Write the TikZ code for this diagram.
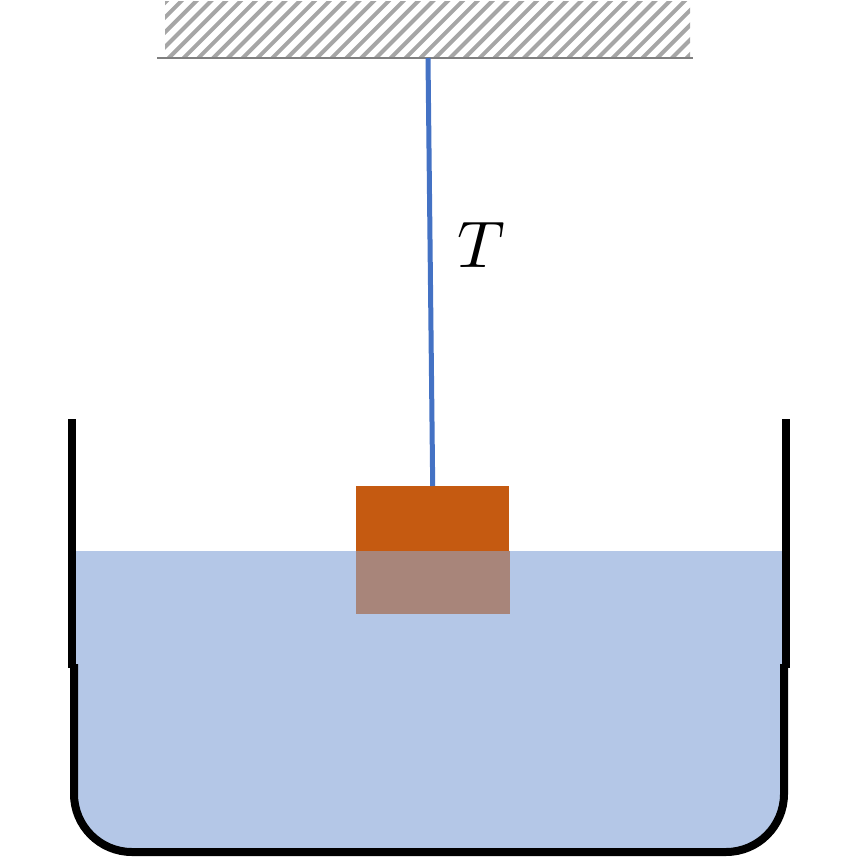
\documentclass[tikz,border=0pt]{standalone}
\usetikzlibrary{calc}
\definecolor{water}{HTML}{B4C7E7}
\definecolor{blockc}{HTML}{C55A11}
\definecolor{blockw}{HTML}{A8857A}
\definecolor{rope}{HTML}{4472C4}
\definecolor{hatchc}{HTML}{A6A6A6}
\tikzset{
  wall/.style={line width=8pt, black},
  ropeline/.style={line width=5pt, rope},
  hatchline/.style={line width=4pt, hatchc},
  ceilline/.style={line width=2pt, gray}
}
\begin{document}
\begin{tikzpicture}[x=1pt,y=-1pt]
\useasboundingbox (0,0) rectangle (845,858);
% ceiling hatch
\begin{scope}
\clip (165,2) rectangle (690,57);
\foreach \i in {-6,...,38} {
  \draw[hatchline] ({150+\i*14.8},62) -- ({150+\i*14.8+65},-3);
}
\end{scope}
\draw[ceilline] (157,58) -- (693,58);
% water
\fill[water] (76,551) -- (76,700) [rounded corners=54pt] -- (76,848) -- (782,848) -- (782,700) [sharp corners] -- (782,551) -- cycle;
% block
\node[fill=blockc, inner sep=0pt, anchor=north west, minimum width=153pt, minimum height=65pt] (blk) at (356,486) {};
\fill[blockw] (356,551) rectangle (509.5,613.5);
\coordinate (top) at (428,58);
\draw[ropeline] (top) -- (blk.north);
% container
\draw[wall] (72,419) -- (72,668);
\draw[wall] (786,419) -- (786,668);
\draw[wall, rounded corners=58pt] (74,664) -- (74,852) -- (784,852) -- (784,664);
% label
\node[scale=6.6] (T) at (481,245) {$T$};
\end{tikzpicture}
\end{document}
